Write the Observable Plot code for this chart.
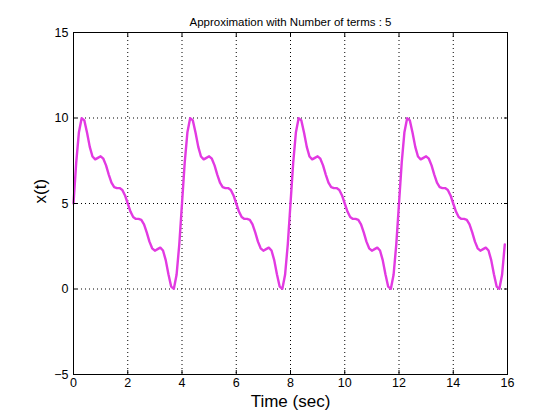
<!DOCTYPE html>
<html>
<head>
<meta charset="utf-8">
<script src="https://cdn.jsdelivr.net/npm/d3@7"></script>
<script src="https://cdn.jsdelivr.net/npm/@observablehq/plot@0.6"></script>
<style>
  html, body { margin: 0; padding: 0; background: #ffffff; }
  #chart { width: 560px; height: 420px; }
</style>
</head>
<body>
<div id="chart"></div>
<script>
const chartTitle = "Approximation with Number of terms : 5";
const xLabel = "Time (sec)";
const yLabel = "x(t)";
const xTicks = [0, 2, 4, 6, 8, 10, 12, 14, 16];
const yTicks = [-5, 0, 5, 10, 15];
const xGrid = [2, 4, 6, 8, 10, 12, 14];
const yGrid = [0, 5, 10];
const timeStep = 0.1;
const xValues = [
  5.00, 7.39, 9.17, 9.99, 9.86, 9.14, 8.31, 7.75, 7.58, 7.67, 7.76, 7.62, 7.23, 6.69, 6.22, 5.96, 5.90, 5.90, 5.79, 5.47,
  5.00, 4.53, 4.21, 4.10, 4.10, 4.04, 3.78, 3.31, 2.77, 2.38, 2.24, 2.33, 2.42, 2.25, 1.69, 0.86, 0.14, 0.01, 0.83, 2.61,
  5.00, 7.39, 9.17, 9.99, 9.86, 9.14, 8.31, 7.75, 7.58, 7.67, 7.76, 7.62, 7.23, 6.69, 6.22, 5.96, 5.90, 5.90, 5.79, 5.47,
  5.00, 4.53, 4.21, 4.10, 4.10, 4.04, 3.78, 3.31, 2.77, 2.38, 2.24, 2.33, 2.42, 2.25, 1.69, 0.86, 0.14, 0.01, 0.83, 2.61,
  5.00, 7.39, 9.17, 9.99, 9.86, 9.14, 8.31, 7.75, 7.58, 7.67, 7.76, 7.62, 7.23, 6.69, 6.22, 5.96, 5.90, 5.90, 5.79, 5.47,
  5.00, 4.53, 4.21, 4.10, 4.10, 4.04, 3.78, 3.31, 2.77, 2.38, 2.24, 2.33, 2.42, 2.25, 1.69, 0.86, 0.14, 0.01, 0.83, 2.61,
  5.00, 7.39, 9.17, 9.99, 9.86, 9.14, 8.31, 7.75, 7.58, 7.67, 7.76, 7.62, 7.23, 6.69, 6.22, 5.96, 5.90, 5.90, 5.79, 5.47,
  5.00, 4.53, 4.21, 4.10, 4.10, 4.04, 3.78, 3.31, 2.77, 2.38, 2.24, 2.33, 2.42, 2.25, 1.69, 0.86, 0.14, 0.01, 0.83, 2.61
];

const data = xValues.map((v, i) => ({t: +(i * timeStep).toFixed(1), x: v}));

const noLabel = () => "";
const chart = Plot.plot({
  width: 560,
  height: 420,
  marginLeft: 73,
  marginRight: 53,
  marginTop: 32,
  marginBottom: 46,
  style: {background: "#ffffff", fontFamily: "'Liberation Sans', Arial, sans-serif", color: "#000000"},
  x: {domain: [0, 16]},
  y: {domain: [-5, 15]},
  marks: [
    Plot.gridX(xGrid, {stroke: "#000000", strokeOpacity: 1, strokeDasharray: "1,3"}),
    Plot.gridY(yGrid, {stroke: "#000000", strokeOpacity: 1, strokeDasharray: "1,3"}),
    Plot.line(data, {x: "t", y: "x", stroke: "#e23ae2", strokeWidth: 2.4}),
    Plot.frame({stroke: "#000000", strokeWidth: 1}),
    Plot.axisX(xTicks, {anchor: "bottom", tickSize: 0, tickPadding: 4, fontSize: 12.5, label: null}),
    Plot.axisX(xTicks, {anchor: "bottom", tickSize: -4, tickFormat: noLabel, label: null}),
    Plot.axisX(xTicks, {anchor: "top", tickSize: -4, tickFormat: noLabel, label: null}),
    Plot.axisY(yTicks, {anchor: "left", tickSize: 0, tickPadding: 5, fontSize: 12.5, label: null}),
    Plot.axisY(yTicks, {anchor: "left", tickSize: -4, tickFormat: noLabel, label: null}),
    Plot.axisY(yTicks, {anchor: "right", tickSize: -4, tickFormat: noLabel, label: null}),
    Plot.text([chartTitle], {frameAnchor: "top", dy: -15, fontSize: 11.5, fill: "#000000"}),
    Plot.text([xLabel], {frameAnchor: "bottom", dy: 32, fontSize: 17, fill: "#000000"}),
    Plot.text([yLabel], {frameAnchor: "left", dx: -33, rotate: -90, fontSize: 17, fill: "#000000"})
  ]
});
document.getElementById("chart").append(chart);
</script>
</body>
</html>
